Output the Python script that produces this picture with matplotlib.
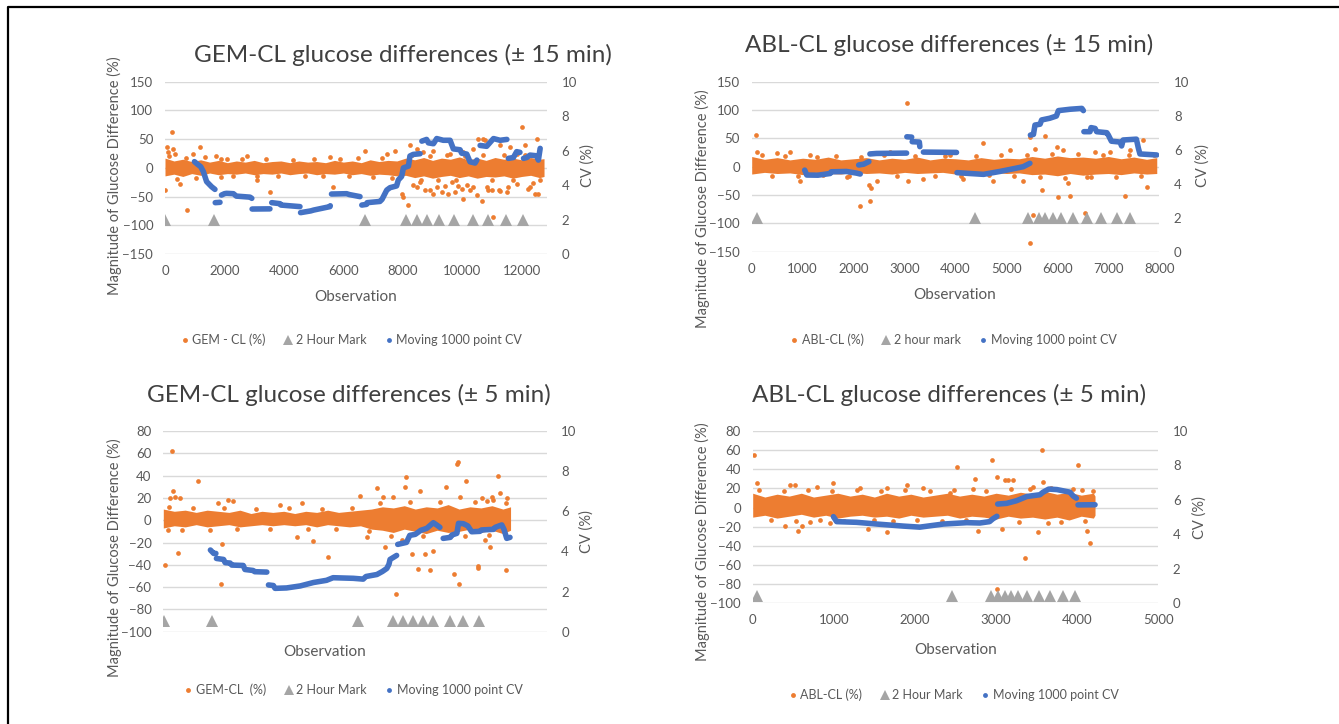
import numpy as np
import matplotlib
matplotlib.use('Agg')
import matplotlib.pyplot as plt
from matplotlib.lines import Line2D

nan = np.nan

# ---------------- GEM-CL glucose differences (+/- 15 min) ----------------
gem15_band_x  = [0, 300, 600, 900, 1200, 1500, 1800, 2100, 2400, 2700, 3000, 3300, 3600, 3900, 4200, 4500, 4800,
                 5100, 5400, 5700, 6000, 6300, 6600, 6900, 7200, 7500, 7800, 8100, 8400, 8700, 9000, 9300, 9600,
                 9900, 10200, 10500, 10800, 11100, 11400, 11700, 12000, 12300, 12600, 12750]
gem15_band_hi = [17, 12, 15, 11, 14, 10, 13, 9, 12, 10, 13, 9, 11, 12, 9, 12, 10,
                 11, 9, 13, 10, 12, 9, 14, 11, 13, 12, 17, 14, 18, 13, 17, 15,
                 19, 14, 17, 13, 18, 15, 17, 14, 18, 15, 16]
gem15_band_lo = [-14, -11, -15, -10, -13, -9, -12, -10, -11, -9, -12, -10, -11, -9, -12, -10, -9,
                 -12, -10, -11, -9, -12, -10, -13, -11, -12, -14, -13, -17, -14, -18, -15, -13,
                 -17, -14, -18, -15, -16, -14, -18, -15, -13, -17, -15]
gem15_out_x = [0, 60, 110, 220, 280, 330, 500, 730, 950, 1180, 1720, 1900, 2070, 2750, 3080, 3530, 5550, 5660,
               6730, 7460, 7740, 7960, 8020, 8190, 8240, 8355, 8467, 8467, 8580, 8691, 8748, 8916, 9028, 9028,
               9140, 9308, 9421, 9533, 9589, 9645, 9760, 9869, 9981, 10037, 10040, 10149, 10262, 10374, 10374,
               10490, 10540, 10650, 10710, 10766, 10822, 10880, 10991, 11050, 11220, 11271, 11271, 11500, 11551,
               11607, 11832, 11832, 12000, 12110, 12200, 12280, 12390, 12450, 12500, 12560,
               150, 420, 700, 1050, 1350, 1900, 2300, 2600, 3100, 3400, 3800, 4300, 4700, 5000, 5300, 5900,
               6200, 6500, 7000, 7300, 7650, 8300, 8600, 8900, 9200, 9500, 9800, 10100, 10700, 11000, 11400,
               11700, 12100, 12600]
gem15_out_y = [-39, 36, 27, 62, 33, 24, -28, -74, 24, 36, 20, -16, 16, 21, -22, -42, 19, -34,
               29, 24, 30, -45, -51, -65, 39, -29, -34, 33, -25, 27, -38, -39, -45, 30,
               -34, -42, -31, -45, 24, -25, -42, -31, -37, 27, -54, -29, -39, -34, 33,
               -48, 50, -57, 50, 48, -34, -39, -38, -86, -39, -41, 39, -42, -34,
               36, -28, 24, 71, 39, -37, -34, -26, -45, 50, -45,
               20, -19, 18, -17, 19, 16, -15, 15, -14, 16, -15, 14, -14, 16, -15, 15,
               -14, 17, -16, 18, -18, 22, -22, 21, -21, 23, -22, 21, 22, -22, 22,
               -21, 22, -22]
gem15_tri_x = [0, 1660, 6730, 8100, 8480, 8810, 9230, 9720, 10350, 10850, 11460, 12030]
gem15_tri_y = -90
gem15_cv_x = [990, 1100, 1200, 1290, 1400, 1570, 1680, 1685, 1690, 1850, 1875, 1900, 2000, 2070, 2300, 2400, 2860, 2920,
              2925, 2930, 3530, 3560, 3590, 3870, 3900, 4540, 4550, 4560, 4900, 5000, 5550, 5560, 5580, 5600, 6110,
              6200, 6560, 6590, 6620, 6780, 6800, 7230, 7300, 7460, 7570, 7790, 7850, 7960, 8020, 8190, 8240, 8350,
              8580, 8610, 8640, 8800, 8860, 9030, 9140, 9360, 9590, 9700, 9925, 9980, 10150, 10260, 10430, 10490,
              10545, 10600, 10820, 11050, 11270, 11500, 11525, 11550, 11720, 11830, 11940, 12000, 12060, 12170,
              12280, 12500, 12560, 12620]
gem15_cv_y = [5.36, 5.2, 5.07, 4.78, 4.2, 3.9, 3.75, nan, 2.98, 3.0, nan, 3.42, 3.5, 3.52, 3.5, 3.36, 3.3, 3.23,
              nan, 2.61, 2.62, nan, 2.98, 2.92, 2.84, 2.75, nan, 2.4, 2.5, 2.55, 2.75, 2.8, nan, 3.48, 3.5,
              3.45, 3.33, nan, 2.84, 2.88, 2.98, 3.05, 3.17, 3.71, 3.85, 3.95, 4.3, 4.5, 5.0, 5.1, 5.69, 5.78,
              5.82, nan, 6.55, 6.65, 6.45, 6.4, 6.7, 6.6, 6.6, 6.1, 6.05, 5.85, 5.8, 5.35, 5.28, 5.45,
              nan, 6.3, 6.25, 6.7, 6.6, 6.65, nan, 5.55, 5.6, 5.94, 5.9, nan, 5.55, 5.6,
              5.74, 5.7, 5.45, 6.13]

# ---------------- ABL-CL glucose differences (+/- 15 min) ----------------
abl15_band_x  = [0, 250, 500, 750, 1000, 1250, 1500, 1750, 2000, 2250, 2500, 2750, 3000, 3250, 3500, 3750, 4000,
                 4250, 4500, 4750, 5000, 5250, 5500, 5750, 6000, 6250, 6500, 6750, 7000, 7250, 7500, 7750, 7950]
abl15_band_hi = [18, 13, 16, 12, 15, 13, 17, 12, 14, 16, 12, 15, 13, 17, 12, 15, 14,
                 12, 16, 13, 15, 14, 18, 15, 19, 16, 17, 15, 18, 14, 17, 13, 16]
abl15_band_lo = [-13, -10, -12, -11, -14, -10, -12, -13, -10, -12, -11, -13, -10, -12, -11, -10, -13,
                 -11, -12, -10, -12, -11, -14, -13, -16, -12, -15, -13, -12, -14, -11, -13, -12]
abl15_out_x = [78, 98, 490, 752, 948, 1275, 1864, 2126, 2309, 2335, 2322, 2450, 2714, 3041, 3074, 3369, 3892, 4154,
               4546, 4742, 5069, 5331, 5462, 5462, 5527, 5560, 5691, 5756, 5985, 6018, 6116, 6214, 6247, 6541,
               6574, 6737, 7032, 7326, 7424, 7686, 7751,
               200, 400, 650, 900, 1150, 1400, 1650, 1900, 2150, 2600, 2850, 3200, 3600, 3800, 4100, 4400, 4650,
               4900, 5150, 5400, 5650, 5900, 6150, 6400, 6650, 6900, 7150, 7400, 7650, 7900]
abl15_out_y = [56, 26, 25, 26, -26, 18, -18, -69, -32, -38, -60, -26, 26, 112, -26, -21, 21, -22,
               41, -26, 29, -26, 52, -135, -85, 32, -41, 54, 35, -53, 29, -29, -51, -81,
               -18, 26, 26, -51, 29, 47, -36,
               20, -16, 19, -17, 20, -15, 19, -16, 18, 20, -16, 19, -16, 19, -16, 19, -15,
               20, -16, 21, -19, 22, -20, 22, -19, 21, -18, 20, -17, 20]
abl15_tri_x = [100, 4380, 5430, 5630, 5760, 5920, 6080, 6300, 6590, 6850, 7160, 7420]
abl15_tri_y = -91
abl15_cv_x = [1040, 1080, 1300, 1540, 1560, 1860, 2060, 2130, 2130, 2100, 2200, 2300, 2310, 2320, 2450, 3040, 3040,
              3045, 3140, 3145, 3150, 3290, 3300, 3330, 3370, 4020, 4025, 4030, 4280, 4550, 4870, 5070, 5330, 5460,
              5465, 5470, 5530, 5560, 5660, 5690, 5850, 5980, 6020, 6250, 6480, 6510, 6515, 6520, 6640, 6660,
              6740, 6770, 6970, 7000, 7060, 7230, 7260, 7290, 7550, 7590, 7620, 7950]
abl15_cv_y = [4.8, 4.51, 4.5, 4.6, 4.7, 4.72, 4.62, 4.57, nan, 5.1, 5.15, 5.3, nan, 5.75, 5.78, 5.8, nan,
              6.76, 6.74, nan, 6.47, 6.45, 6.18, nan, 5.86, 5.84, nan, 4.65, 4.6, 4.55, 4.72, 4.84, 5.0, 5.2,
              nan, 6.86, 6.9, 7.45, 7.5, 7.75, 7.85, 7.98, 8.3, 8.38, 8.43, 8.3, nan, 7.06, 7.06, 7.3,
              7.25, 7.06, 7.0, 6.86, 6.5, 6.45, 6.22, 6.57, 6.62, 6.08, 5.75, 5.69]

# ---------------- GEM-CL glucose differences (+/- 5 min) ----------------
gem5_band_x  = [0, 200, 400, 600, 800, 1000, 1200, 1400, 1600, 1800, 2000, 2200, 2400, 2600, 2800, 3000, 3200,
                3400, 3600, 3800, 4000, 4200, 4400, 4600, 4800, 5000, 5200, 5400, 5600, 5800, 6000, 6200, 6340]
gem5_band_hi = [10, 8, 9, 7, 9, 8, 7, 9, 6, 8, 7, 8, 6, 8, 7, 9, 7,
                8, 9, 10, 12, 11, 13, 10, 12, 11, 14, 10, 12, 11, 13, 10, 12]
gem5_band_lo = [-7, -5, -6, -4, -6, -5, -4, -6, -5, -4, -5, -4, -5, -4, -6, -4, -5,
                -6, -5, -8, -9, -11, -8, -10, -12, -9, -11, -10, -8, -11, -9, -12, -9]
gem5_out_x = [30, 152, 122, 183, 213, 274, 304, 91, 639, 1004, 1047, 1065, 1187, 1278, 2526, 2435, 2739, 3013,
              2130, 3591, 3713, 3896, 4017, 4048, 4200, 4249, 4352, 4431, 4413, 4535, 4657, 4687, 4778, 4870,
              4930, 5162, 5308, 5356, 5387, 5405, 5417, 5527, 5740, 5740, 5813, 5874, 5904, 5965, 5996, 6117,
              6148, 6257, 6269, 6026,
              100, 350, 550, 850, 1100, 1350, 1700, 1950, 2300, 2650, 2900, 3150, 3450, 3750, 3950, 4150,
              4500, 4750, 5050, 5500, 5700, 5950, 6250]
gem5_out_y = [-40, 62, 20, 26, 21, -29, 20, -9, 35, 15, -57, -21, 18, 17, 15, -15, -19, -33,
              14, 22, -15, 29, 21, -24, 21, -66, -18, 39, 30, -30, -44, 26, -30, -45,
              -28, 30, -48, 50, 52, -57, 21, 35, -41, -43, 20, -18, 17, -24, 21, 40,
              24, -45, 20, 18,
              12, -9, 11, -9, 11, -8, 10, -8, 11, -8, 10, -8, 11, -10, 15, -14,
              16, -14, 16, -14, 16, -13, 15]
gem5_tri_x = [20, 895, 3550, 4190, 4380, 4550, 4740, 4930, 5235, 5465, 5770]
gem5_tri_y = -90
gem5_cv_x = [860, 920, 960, 965, 970, 1100, 1130, 1220, 1250, 1460, 1490, 1640, 1670, 1890, 1905, 1920, 2010, 2040,
             2250, 2500, 2740, 2980, 3100, 3470, 3650, 3700, 3900, 4000, 4080, 4120, 4140, 4260, 4270, 4280, 4440,
             4500, 4600, 4700, 4810, 4930, 5000, 5050, 5080, 5110, 5240, 5270, 5360, 5390, 5480, 5560, 5630, 5780,
             5810, 6030, 6060, 6180, 6220, 6270, 6330]
gem5_cv_y = [4.07, 3.9, 3.9, nan, 3.65, 3.6, 3.44, 3.42, 3.32, 3.3, 3.1, 3.05, 2.99, 2.97, nan, 2.33, 2.3, 2.16,
             2.18, 2.28, 2.45, 2.56, 2.69, 2.66, 2.62, 2.75, 2.85, 3.0, 3.15, 3.36, 3.6, 3.8, nan, 4.35, 4.45,
             4.8, 4.85, 5.05, 5.15, 5.43, 5.3, 5.2, nan, 4.65, 4.7, 4.82, 4.9, 5.4, 5.38, 5.27, 4.98, 5.0,
             5.07, 5.1, 5.2, 5.32, 5.1, 4.65, 4.7]

# ---------------- ABL-CL glucose differences (+/- 5 min) ----------------
abl5_band_x  = [0, 150, 300, 450, 600, 750, 900, 1050, 1200, 1350, 1500, 1650, 1800, 1950, 2100, 2250, 2400,
                2550, 2700, 2850, 3000, 3150, 3300, 3450, 3600, 3750, 3900, 4050, 4200, 4220]
abl5_band_hi = [15, 11, 14, 12, 15, 11, 13, 15, 12, 14, 11, 15, 12, 14, 11, 13, 15,
                12, 14, 12, 15, 13, 16, 14, 17, 14, 16, 13, 15, 12]
abl5_band_lo = [-10, -8, -11, -9, -7, -10, -8, -11, -9, -8, -10, -9, -11, -8, -10, -9, -8,
                -11, -9, -10, -12, -9, -11, -10, -12, -10, -13, -9, -11, -8]
abl5_out_x = [21, 49, 398, 460, 522, 563, 604, 707, 789, 994, 953, 1323, 1425, 1651, 1651, 1898, 2103, 2432,
              2514, 2720, 2740, 2781, 2945, 3007, 3007, 3069, 3110, 3151, 3212, 3356, 3459, 3521, 3562, 3582,
              3644, 4013, 4116, 4157, 4055,
              80, 230, 380, 530, 680, 830, 980, 1130, 1280, 1500, 1580, 1730, 1880, 2030, 2180, 2330, 2480,
              2630, 2880, 3180, 3280, 3420, 3680, 3800, 3950, 4100, 4200]
abl5_out_y = [55, 26, -19, 24, 24, -24, -19, -15, 22, 26, -16, 20, -22, 20, -25, 24, 20, 15,
              42, 19, 30, -24, 50, 32, -85, -22, 29, 29, 29, -53, 22, -25, 60, 27,
              -16, 44, -24, -37, 18,
              18, -13, 17, -14, 18, -13, 17, -14, 18, -13, 17, -14, 18, -13, 17, -14, 18,
              -13, 17, 19, -15, 19, 20, -15, 19, -14, 17]
abl5_tri_x = [50, 2460, 2940, 3030, 3110, 3190, 3270, 3385, 3530, 3670, 3830, 3970]
abl5_tri_y = -92
abl5_cv_x = [995, 1035, 1280, 1530, 1860, 2060, 2350, 2640, 2800, 2920, 2960, 3010, 3015, 3020, 3130, 3250, 3380,
             3540, 3580, 3650, 3750, 3910, 3950, 3990, 4000, 4010, 4220]
abl5_cv_y = [5.03, 4.74, 4.7, 4.6, 4.48, 4.42, 4.6, 4.68, 4.66, 4.74, 4.9, 5.05, nan, 5.76, 5.8, 5.95, 6.2,
             6.3, 6.45, 6.63, 6.6, 6.45, 6.23, 6.1, nan, 5.71, 5.72]


ORANGE = '#ED7D31'
BLUE = '#4472C4'
GRAY = '#A5A5A5'
TXT = '#595959'
W, H = 1339, 724

plt.rcParams['font.family'] = ['Lato', 'DejaVu Sans']

fig = plt.figure(figsize=(W / 100, H / 100), dpi=100)
fig.patch.set_facecolor('white')


def px_rect(x0, y0, x1, y1):
	return [x0 / W, 1 - y1 / H, (x1 - x0) / W, (y1 - y0) / H]


def fx(x):
	return x / W


def fy(y):
	return 1 - y / H


def draw_panel(rect, band, outl, tri, cv, xlim, ylim, yticks, xticks, title, labels, pos):
	ax = fig.add_axes(px_rect(*rect))
	ax.fill_between(band[0], band[1], band[2], color=ORANGE, lw=0, zorder=2)
	ax.plot(outl[0], outl[1], 'o', color=ORANGE, ms=3.4, mew=0, zorder=3)
	ax.plot(tri[0], [tri[1]] * len(tri[0]), '^', color=GRAY, ms=8, mew=0, zorder=3)
	ax.set_xlim(*xlim)
	ax.set_ylim(*ylim)
	ax.set_yticks(yticks)
	ax.grid(axis='y', color='#D9D9D9', lw=1, zorder=0)
	ax.set_axisbelow(True)
	if xticks is None:
		ax.set_xticks([])
	else:
		ax.set_xticks(xticks)
	ax.tick_params(length=0, labelsize=9.5, labelcolor=TXT)
	ax.tick_params(axis='y', pad=8.5)
	ax.tick_params(axis='x', pad=8)
	for s in ax.spines.values():
		s.set_visible(False)

	ax2 = ax.twinx()
	ax2.plot(cv[0], cv[1], '-', color=BLUE, lw=4, solid_capstyle='round', zorder=4)
	ax2.set_ylim(0, 10)
	ax2.set_yticks([0, 2, 4, 6, 8, 10])
	ax2.tick_params(length=0, labelsize=9.5, labelcolor=TXT, pad=10.5)
	for s in ax2.spines.values():
		s.set_visible(False)

	fig.text(fx(pos['title'][0]), fy(pos['title'][1]), title, ha='center', va='center',
			 fontsize=17.5, color='#404040')
	fig.text(fx(pos['ylab'][0]), fy(pos['ylab'][1]), 'Magnitude of Glucose Difference (%)',
			 rotation=90, ha='center', va='center', fontsize=10.5, color=TXT)
	fig.text(fx(pos['cvlab'][0]), fy(pos['cvlab'][1]), 'CV (%)',
			 rotation=90, ha='center', va='center', fontsize=10.5, color=TXT)
	fig.text(fx(pos['xlab'][0]), fy(pos['xlab'][1]), 'Observation',
			 ha='center', va='center', fontsize=11, color=TXT)

	handles = [
		Line2D([], [], marker='o', ls='', color=ORANGE, ms=3.5, mew=0),
		Line2D([], [], marker='^', ls='', color=GRAY, ms=7, mew=0),
		Line2D([], [], marker='o', ls='', color=BLUE, ms=3.5, mew=0),
	]
	fig.legend(handles, labels, loc='center', bbox_to_anchor=(fx(pos['leg'][0]), fy(pos['leg'][1])),
			   ncol=3, frameon=False, fontsize=9, handletextpad=0.2, handlelength=0.8,
			   columnspacing=1.4, labelcolor=TXT)
	return ax, ax2


draw_panel((165, 81.7, 547, 254),
		   (gem15_band_x, gem15_band_lo, gem15_band_hi),
		   (gem15_out_x, gem15_out_y),
		   (gem15_tri_x, gem15_tri_y),
		   (gem15_cv_x, gem15_cv_y),
		   (0, 12850), (-150, 150), range(-150, 151, 50), range(0, 12001, 2000),
		   'GEM-CL glucose differences (± 15 min)',
		   ['GEM - CL (%)', '2 Hour Mark', 'Moving 1000 point CV'],
		   {'title': (403, 55), 'ylab': (114, 176), 'cvlab': (588, 166), 'xlab': (356, 297), 'leg': (351, 340)})

draw_panel((751.7, 81.7, 1159.3, 251.7),
		   (abl15_band_x, abl15_band_lo, abl15_band_hi),
		   (abl15_out_x, abl15_out_y),
		   (abl15_tri_x, abl15_tri_y),
		   (abl15_cv_x, abl15_cv_y),
		   (0, 8000), (-150, 150), range(-150, 151, 50), range(0, 8001, 1000),
		   'ABL-CL glucose differences (± 15 min)',
		   ['ABL-CL (%)', '2 hour mark', 'Moving 1000 point CV'],
		   {'title': (949, 45), 'ylab': (702, 209), 'cvlab': (1203, 166), 'xlab': (955, 295), 'leg': (953, 340)})

draw_panel((163.3, 431, 546.7, 631.7),
		   (gem5_band_x, gem5_band_lo, gem5_band_hi),
		   (gem5_out_x, gem5_out_y),
		   (gem5_tri_x, gem5_tri_y),
		   (gem5_cv_x, gem5_cv_y),
		   (0, 7000), (-100, 80), range(-100, 81, 20), None,
		   'GEM-CL glucose differences (± 5 min)',
		   ['GEM-CL  (%)', '2 Hour Mark', 'Moving 1000 point CV'],
		   {'title': (349, 395), 'ylab': (114, 558), 'cvlab': (587, 532), 'xlab': (325, 652), 'leg': (353, 690)})

draw_panel((752.7, 431, 1158.3, 603.3),
		   (abl5_band_x, abl5_band_lo, abl5_band_hi),
		   (abl5_out_x, abl5_out_y),
		   (abl5_tri_x, abl5_tri_y),
		   (abl5_cv_x, abl5_cv_y),
		   (0, 5000), (-100, 80), range(-100, 81, 20), range(0, 5001, 1000),
		   'ABL-CL glucose differences (± 5 min)',
		   ['ABL-CL (%)', '2 Hour Mark', 'Moving 1000 point CV'],
		   {'title': (949, 395), 'ylab': (702, 542), 'cvlab': (1200, 518), 'xlab': (956, 650), 'leg': (953, 695)})

# outer frame (left and top edges only are inside the picture)
fig.add_artist(Line2D([fx(8), fx(8), 1.0], [0.0, fy(7), fy(7)], color='black', lw=1.6,
					  transform=fig.transFigure))

fig.savefig('out.png', dpi=100)
